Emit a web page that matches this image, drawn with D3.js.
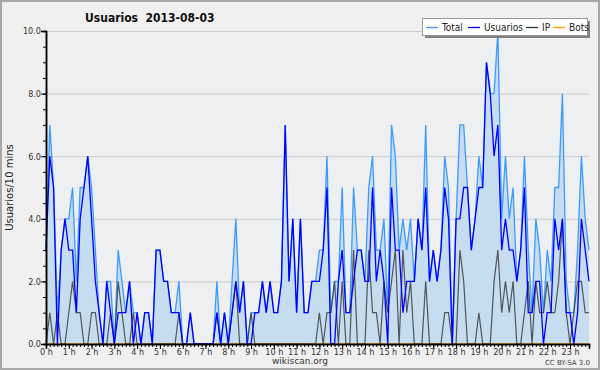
<!DOCTYPE html>
<html>
<head>
<meta charset="utf-8">
<script src="https://cdn.jsdelivr.net/npm/d3@7"></script>
<style>
  html, body { margin: 0; padding: 0; background: #fff; }
  svg { display: block; font-family: "DejaVu Sans", sans-serif; }
</style>
</head>
<body>
<div id="chart"></div>
<script>
/* Usuarios 2013-08-03 — 10-minute buckets, 144 per day */

var hourLabels = d3.range(24).map(function (h) { return h + ' h'; });
var seriesNames = ['Total', 'Usuarios', 'IP', 'Bots'];

var usuarios = [
  3, 6, 5, 0, 3, 4, 3, 3, 1, 4, 5, 6, 4, 2, 1, 0, 2, 1, 0, 1, 1, 1, 2, 0,
  1, 0, 1, 1, 0, 3, 3, 2, 2, 1, 1, 1, 0, 0, 1, 0, 0, 0, 0, 0, 0, 1, 0, 1,
  0, 1, 2, 1, 2, 0, 0, 1, 1, 2, 1, 2, 1, 1, 2, 7, 2, 4, 1, 4, 1, 1, 2, 2,
  2, 3, 5, 0, 0, 2, 3, 1, 1, 2, 3, 3, 2, 2, 5, 2, 3, 2, 0, 5, 3, 3, 1, 2,
  2, 2, 4, 3, 5, 2, 3, 2, 3, 5, 4, 0, 4, 4, 5, 5, 3, 4, 5, 5, 9, 8, 6, 7,
  3, 4, 3, 3, 2, 3, 5, 1, 1, 2, 2, 0, 1, 1, 4, 3, 4, 1, 1, 0, 1, 4, 3, 2
];
var ip = [
  0, 1, 0, 1, 0, 0, 1, 2, 1, 1, 0, 0, 1, 1, 0, 0, 0, 1, 0, 2, 1, 0, 0, 1,
  0, 0, 0, 0, 0, 0, 0, 0, 0, 0, 0, 1, 0, 0, 0, 0, 0, 0, 0, 0, 0, 1, 0, 0,
  0, 1, 2, 0, 0, 0, 1, 0, 0, 0, 0, 0, 0, 0, 0, 0, 0, 0, 0, 0, 0, 0, 0, 0,
  1, 0, 1, 1, 2, 0, 2, 0, 0, 3, 0, 0, 0, 3, 1, 1, 0, 2, 1, 2, 3, 0, 3, 1,
  2, 0, 0, 0, 2, 0, 0, 0, 0, 1, 1, 0, 0, 3, 2, 0, 0, 0, 1, 0, 0, 0, 2, 3,
  1, 2, 1, 2, 0, 0, 1, 2, 0, 2, 1, 1, 2, 1, 1, 2, 4, 1, 0, 1, 2, 2, 1, 1
];
var total = [
  3, 7, 5, 1, 3, 4, 4, 5, 2, 5, 5, 6, 5, 3, 1, 0, 2, 2, 0, 3, 2, 1, 2, 1,
  1, 0, 1, 1, 0, 3, 3, 2, 2, 1, 1, 2, 0, 0, 1, 0, 0, 0, 0, 0, 0, 2, 0, 1,
  0, 2, 4, 1, 2, 0, 1, 1, 1, 2, 1, 2, 1, 1, 2, 7, 2, 4, 1, 4, 1, 1, 2, 2,
  3, 3, 6, 1, 2, 2, 5, 1, 1, 5, 3, 3, 2, 5, 6, 3, 3, 4, 1, 7, 6, 3, 4, 3,
  4, 2, 4, 3, 7, 2, 3, 2, 3, 6, 5, 0, 4, 7, 7, 5, 3, 4, 6, 5, 9, 8, 8, 10,
  4, 6, 4, 5, 2, 3, 6, 3, 1, 4, 3, 1, 3, 2, 5, 5, 8, 2, 1, 1, 3, 6, 4, 3
];
var bots = d3.range(144).map(function () { return 0; });

var yTicks = [0, 2, 4, 6, 8, 10];

var W = 600, H = 370;
var colors = { Total: '#3d9bff', Usuarios: '#0000ff', IP: '#333333', Bots: '#ff9900' };

var svg = d3.select('#chart').append('svg')
  .attr('width', W).attr('height', H);

/* background + frame */
svg.append('rect').attr('x', 0).attr('y', 0).attr('width', W).attr('height', H)
  .attr('fill', '#f0f0f0');
svg.append('rect').attr('x', 1).attr('y', 1).attr('width', W - 2).attr('height', H - 2)
  .attr('fill', 'none').attr('stroke', '#a8a8a8').attr('stroke-width', 2);

var x = d3.scaleLinear().domain([0, 143]).range([46, 589]);
var y = d3.scaleLinear().domain([0, 10]).range([344, 31]);

/* plot area */
svg.append('rect')
  .attr('x', x(0)).attr('y', y(10))
  .attr('width', x(143) - x(0)).attr('height', y(0) - y(10))
  .attr('fill', '#eeeff1');

/* grid */
svg.append('g').selectAll('line').data(yTicks.filter(function (d) { return d > 0; }))
  .enter().append('line')
  .attr('x1', x(0)).attr('x2', x(143))
  .attr('y1', function (d) { return y(d) + 0.5; })
  .attr('y2', function (d) { return y(d) + 0.5; })
  .attr('stroke', '#cccccc').attr('stroke-width', 1);

/* area under total */
var area = d3.area()
  .x(function (d, i) { return x(i); })
  .y0(y(0))
  .y1(function (d) { return y(d); });
svg.append('path').datum(total)
  .attr('d', area)
  .attr('fill', '#c6ddf0');

var line = d3.line()
  .x(function (d, i) { return x(i); })
  .y(function (d) { return y(d); });

[['Total', total], ['Bots', bots], ['IP', ip], ['Usuarios', usuarios]].forEach(function (s) {
  svg.append('path').datum(s[1])
    .attr('d', line)
    .attr('fill', 'none')
    .attr('stroke', colors[s[0]])
    .attr('stroke-width', s[0] === 'IP' ? 1.2 : 1.3)
    .attr('stroke-opacity', s[0] === 'IP' ? 0.8 : 1);
});

/* axes */
var yMinor = d3.axisLeft(y).tickValues(d3.range(0, 10.01, 0.5)).tickSize(3).tickFormat('');
var yMajor = d3.axisLeft(y).tickValues(yTicks).tickSize(5).tickFormat(d3.format('.1f'));
var gy1 = svg.append('g').attr('transform', 'translate(' + x(0) + ',0)').call(yMinor);
var gy2 = svg.append('g').attr('transform', 'translate(' + x(0) + ',0)').call(yMajor);

var xMinor = d3.axisBottom(x).tickValues(d3.range(0, 144)).tickSize(3).tickFormat('');
var xMajor = d3.axisBottom(x).tickValues(d3.range(0, 144, 6)).tickSize(5)
  .tickFormat(function (d) { return hourLabels[d / 6]; });
var gx1 = svg.append('g').attr('transform', 'translate(0,' + y(0) + ')').call(xMinor);
var gx2 = svg.append('g').attr('transform', 'translate(0,' + y(0) + ')').call(xMajor);

[gy1, gy2, gx1, gx2].forEach(function (g) {
  g.select('.domain').attr('stroke', '#000').attr('stroke-width', 1.5);
  g.selectAll('.tick line').attr('stroke', '#000');
  g.selectAll('.tick text').attr('fill', '#333').style('font-size', '9px')
    .style('font-family', '"DejaVu Sans Condensed", "DejaVu Sans", sans-serif');
});
gy2.selectAll('.tick text').attr('x', -5);
gx2.selectAll('.tick text').attr('y', 5);

/* titles */
svg.append('text').attr('x', 85).attr('y', 22)
  .style('font-size', '12px').style('font-weight', 'bold').attr('fill', '#111')
  .style('font-family', '"DejaVu Sans Condensed", "DejaVu Sans", sans-serif')
  .attr('xml:space', 'preserve')
  .text('Usuarios  2013-08-03');

svg.append('text')
  .attr('transform', 'translate(13,' + ((y(0) + y(10)) / 2) + ') rotate(-90)')
  .attr('text-anchor', 'middle')
  .style('font-size', '10px').attr('fill', '#222')
  .text('Usuarios/10 mins');

svg.append('text').attr('x', 300).attr('y', 364).attr('text-anchor', 'middle')
  .style('font-size', '9px').attr('fill', '#333').text('wikiscan.org');

svg.append('text').attr('x', 590).attr('y', 365).attr('text-anchor', 'end')
  .style('font-size', '7px').attr('fill', '#444').text('CC BY-SA 3.0');

/* legend */
var lg = svg.append('g');
lg.append('rect').attr('x', 425).attr('y', 21).attr('width', 165).attr('height', 17)
  .attr('fill', '#808080');
lg.append('rect').attr('x', 422.5).attr('y', 18.5).attr('width', 165).attr('height', 17)
  .attr('fill', '#fff').attr('stroke', '#999');
var legX = [426, 468, 526, 553];
seriesNames.forEach(function (n, i) {
  lg.append('line').attr('x1', legX[i]).attr('x2', legX[i] + 12)
    .attr('y1', 27.5).attr('y2', 27.5)
    .attr('stroke', colors[n]).attr('stroke-width', 1.3);
  lg.append('text').attr('x', legX[i] + 16).attr('y', 31)
    .style('font-size', '10px').attr('fill', '#222')
    .style('font-family', '"DejaVu Sans Condensed", "DejaVu Sans", sans-serif')
    .text(n);
});
</script>
</body>
</html>
